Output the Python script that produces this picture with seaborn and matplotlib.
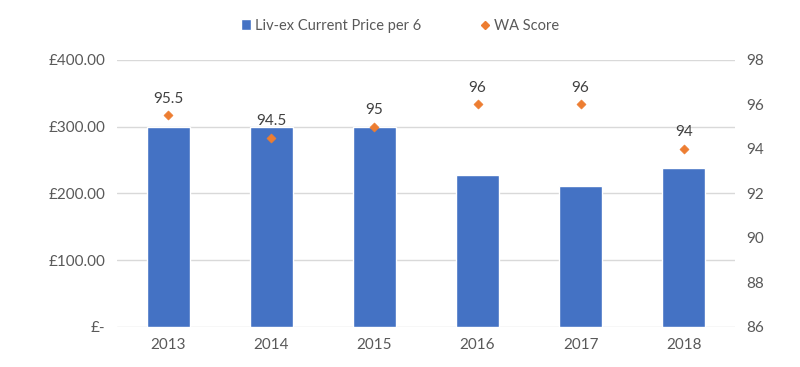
import matplotlib
matplotlib.use("Agg")
import matplotlib.pyplot as plt
import seaborn as sns
import pandas as pd
from matplotlib.lines import Line2D
from matplotlib.patches import Patch

# data
years = ["2013", "2014", "2015", "2016", "2017", "2018"]
price = [300, 300, 300, 228, 211, 238]
wa_score = [95.5, 94.5, 95, 96, 96, 94]
score_labels = ["95.5", "94.5", "95", "96", "96", "94"]

df = pd.DataFrame({"Year": years, "Price": price, "Score": wa_score})

sns.set_style("white")
plt.rcParams["font.family"] = ["Lato", "DejaVu Sans"]

bar_color = "#4472C4"
dot_color = "#ED7D31"
text_color = "#595959"
grid_color = "#D9D9D9"

fig = plt.figure(figsize=(8, 3.67), dpi=100)
ax = fig.add_axes([0.146, 0.109, 0.773, 0.728])

sns.barplot(data=df, x="Year", y="Price", color=bar_color, width=0.42,
            saturation=1, ax=ax, zorder=2)
ax.set_ylim(0, 400)
ax.set_yticks([0, 100, 200, 300, 400])
ax.set_yticklabels(["£-", "£100.00", "£200.00", "£300.00", "£400.00"])
ax.set_xlim(-0.5, 5.5)
ax.grid(axis="y", color=grid_color, linewidth=1, zorder=0)
ax.set_axisbelow(True)
ax.set_xlabel("")
ax.set_ylabel("")
for s in ax.spines.values():
    s.set_visible(False)
ax.tick_params(axis="both", length=0, labelsize=11, labelcolor=text_color, pad=8)

ax2 = ax.twinx()
sns.scatterplot(data=df, x="Year", y="Score", marker="D", s=22, color=dot_color,
                edgecolor=dot_color, ax=ax2, zorder=3)
ax2.set_ylim(86, 98)
ax2.set_yticks(range(86, 99, 2))
ax2.set_ylabel("")
for s in ax2.spines.values():
    s.set_visible(False)
ax2.tick_params(axis="y", length=0, labelsize=11, labelcolor=text_color, pad=8)

for i, (v, lab) in enumerate(zip(wa_score, score_labels)):
    ax2.annotate(lab, (i, v), xytext=(0, 7), textcoords="offset points",
                 ha="center", va="bottom", fontsize=11, color="#404040")

handles = [Patch(facecolor=bar_color, label="Liv-ex Current Price per 6"),
           Line2D([], [], marker="D", linestyle="", markersize=4, color=dot_color,
                  label="WA Score")]
fig.legend(handles=handles, loc="upper center", bbox_to_anchor=(0.5, 0.985), ncol=2,
           frameon=False, fontsize=10.5, handlelength=0.7, handletextpad=0.3,
           columnspacing=4, labelcolor=text_color)

fig.savefig("out.png", dpi=100)
